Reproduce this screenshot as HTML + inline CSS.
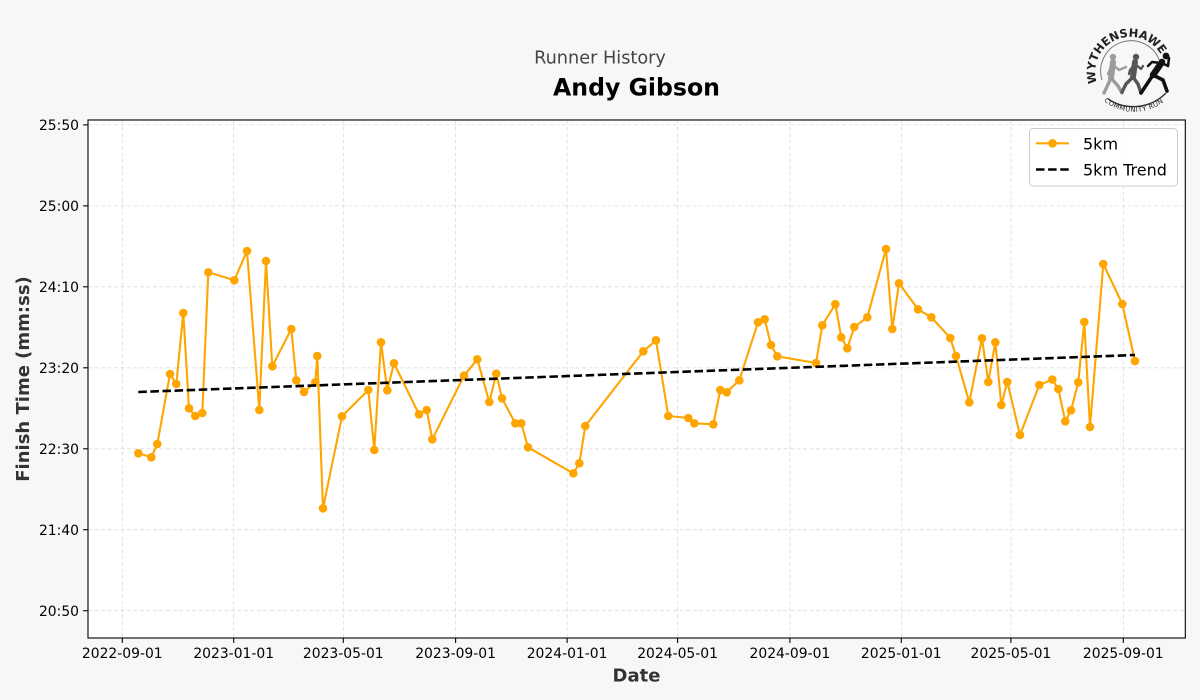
<!DOCTYPE html>
<html>
<head>
<meta charset="utf-8">
<style>
  html,body{margin:0;padding:0;background:#f7f7f7;}
  svg{display:block;}
  text{font-family:"DejaVu Sans","Liberation Sans",sans-serif;}
</style>
</head>
<body>
<svg width="1200" height="700" viewBox="0 0 1200 700" xmlns="http://www.w3.org/2000/svg">
  <rect x="0" y="0" width="1200" height="700" fill="#f7f7f7"/>

  <!-- Titles -->
  <text x="600" y="63.5" font-size="17.7" fill="#444" text-anchor="middle">Runner History</text>
  <text x="636.5" y="95.5" font-size="23.6" font-weight="bold" fill="#000" text-anchor="middle">Andy Gibson</text>

  <!-- Axes background -->
  <rect x="88" y="120" width="1097.3" height="518" fill="#fff"/>

  <!-- Grid -->
  <g stroke="#dcdcdc" stroke-width="0.8" stroke-dasharray="4,2.5" fill="none">
    <line x1="88" x2="1185.3" y1="124.9" y2="124.9"/>
    <line x1="88" x2="1185.3" y1="205.9" y2="205.9"/>
    <line x1="88" x2="1185.3" y1="286.8" y2="286.8"/>
    <line x1="88" x2="1185.3" y1="367.8" y2="367.8"/>
    <line x1="88" x2="1185.3" y1="448.8" y2="448.8"/>
    <line x1="88" x2="1185.3" y1="529.7" y2="529.7"/>
    <line x1="88" x2="1185.3" y1="610.7" y2="610.7"/>
    <line y1="120" y2="638" x1="122.3" x2="122.3"/>
    <line y1="120" y2="638" x1="233.7" x2="233.7"/>
    <line y1="120" y2="638" x1="343.3" x2="343.3"/>
    <line y1="120" y2="638" x1="455.6" x2="455.6"/>
    <line y1="120" y2="638" x1="567.1" x2="567.1"/>
    <line y1="120" y2="638" x1="677.6" x2="677.6"/>
    <line y1="120" y2="638" x1="789.9" x2="789.9"/>
    <line y1="120" y2="638" x1="901.3" x2="901.3"/>
    <line y1="120" y2="638" x1="1010.9" x2="1010.9"/>
    <line y1="120" y2="638" x1="1123.3" x2="1123.3"/>
  </g>

  <!-- Data line -->
  <polyline fill="none" stroke="#FFA500" stroke-width="2.1" stroke-linejoin="round" points="138.3,453.3 151.3,457.3 157.3,444 170,374 176.3,384 183.3,313 189,408.3 195.3,416 202.3,413 208.3,272.3 234.3,280.3 247,251 259.3,410 266,261 272.3,366.3 291.3,329 296.3,380.3 304,392 315.3,382.3 317.3,356 323,508.3 342,416.3 368.3,390 374.3,450 381,342.3 387.3,390.3 394,363.3 419,414.3 426.7,410 432.3,439.3 464,375.7 477.3,359.3 489.3,402 496.3,373.7 502,398.3 515.3,423.3 521.3,423.3 528,447.3 573.3,473.3 579.3,463.3 585.3,426 643.3,351.3 656,340.3 668.3,416 688.3,418 694.3,423.3 713.3,424.3 720.3,390 726.7,392.3 739.3,380.3 758,322.3 764.7,319.3 771,345 777.3,356.3 816,363 822.3,325.3 835.3,304.2 841.3,337.3 847.3,348.3 854.3,327 867.3,317.3 886,249 892.3,329 899,283.3 918,309.3 931.3,317.3 950.3,338 956,356 969.3,402.3 982,338.3 988.3,382 995.3,342.3 1001.3,405 1007.3,382 1020,435 1039.3,385 1052.3,379.5 1058.3,389 1065.3,421.3 1071,410.3 1078.3,382.3 1084.3,322 1090,427 1103.3,264 1122.3,304 1135,361"/>

  <!-- Markers -->
  <g fill="#FFA500">
    <circle cx="138.3" cy="453.3" r="4.3"/><circle cx="151.3" cy="457.3" r="4.3"/><circle cx="157.3" cy="444" r="4.3"/>
    <circle cx="170" cy="374" r="4.3"/><circle cx="176.3" cy="384" r="4.3"/><circle cx="183.3" cy="313" r="4.3"/>
    <circle cx="189" cy="408.3" r="4.3"/><circle cx="195.3" cy="416" r="4.3"/><circle cx="202.3" cy="413" r="4.3"/>
    <circle cx="208.3" cy="272.3" r="4.3"/><circle cx="234.3" cy="280.3" r="4.3"/><circle cx="247" cy="251" r="4.3"/>
    <circle cx="259.3" cy="410" r="4.3"/><circle cx="266" cy="261" r="4.3"/><circle cx="272.3" cy="366.3" r="4.3"/>
    <circle cx="291.3" cy="329" r="4.3"/><circle cx="296.3" cy="380.3" r="4.3"/><circle cx="304" cy="392" r="4.3"/>
    <circle cx="315.3" cy="382.3" r="4.3"/><circle cx="317.3" cy="356" r="4.3"/><circle cx="323" cy="508.3" r="4.3"/>
    <circle cx="342" cy="416.3" r="4.3"/><circle cx="368.3" cy="390" r="4.3"/><circle cx="374.3" cy="450" r="4.3"/>
    <circle cx="381" cy="342.3" r="4.3"/><circle cx="387.3" cy="390.3" r="4.3"/><circle cx="394" cy="363.3" r="4.3"/>
    <circle cx="419" cy="414.3" r="4.3"/><circle cx="426.7" cy="410" r="4.3"/><circle cx="432.3" cy="439.3" r="4.3"/>
    <circle cx="464" cy="375.7" r="4.3"/><circle cx="477.3" cy="359.3" r="4.3"/><circle cx="489.3" cy="402" r="4.3"/>
    <circle cx="496.3" cy="373.7" r="4.3"/><circle cx="502" cy="398.3" r="4.3"/><circle cx="515.3" cy="423.3" r="4.3"/>
    <circle cx="521.3" cy="423.3" r="4.3"/><circle cx="528" cy="447.3" r="4.3"/><circle cx="573.3" cy="473.3" r="4.3"/>
    <circle cx="579.3" cy="463.3" r="4.3"/><circle cx="585.3" cy="426" r="4.3"/><circle cx="643.3" cy="351.3" r="4.3"/>
    <circle cx="656" cy="340.3" r="4.3"/><circle cx="668.3" cy="416" r="4.3"/><circle cx="688.3" cy="418" r="4.3"/>
    <circle cx="694.3" cy="423.3" r="4.3"/><circle cx="713.3" cy="424.3" r="4.3"/><circle cx="720.3" cy="390" r="4.3"/>
    <circle cx="726.7" cy="392.3" r="4.3"/><circle cx="739.3" cy="380.3" r="4.3"/><circle cx="758" cy="322.3" r="4.3"/>
    <circle cx="764.7" cy="319.3" r="4.3"/><circle cx="771" cy="345" r="4.3"/><circle cx="777.3" cy="356.3" r="4.3"/>
    <circle cx="816" cy="363" r="4.3"/><circle cx="822.3" cy="325.3" r="4.3"/><circle cx="835.3" cy="304.2" r="4.3"/>
    <circle cx="841.3" cy="337.3" r="4.3"/><circle cx="847.3" cy="348.3" r="4.3"/><circle cx="854.3" cy="327" r="4.3"/>
    <circle cx="867.3" cy="317.3" r="4.3"/><circle cx="886" cy="249" r="4.3"/><circle cx="892.3" cy="329" r="4.3"/>
    <circle cx="899" cy="283.3" r="4.3"/><circle cx="918" cy="309.3" r="4.3"/><circle cx="931.3" cy="317.3" r="4.3"/>
    <circle cx="950.3" cy="338" r="4.3"/><circle cx="956" cy="356" r="4.3"/><circle cx="969.3" cy="402.3" r="4.3"/>
    <circle cx="982" cy="338.3" r="4.3"/><circle cx="988.3" cy="382" r="4.3"/><circle cx="995.3" cy="342.3" r="4.3"/>
    <circle cx="1001.3" cy="405" r="4.3"/><circle cx="1007.3" cy="382" r="4.3"/><circle cx="1020" cy="435" r="4.3"/>
    <circle cx="1039.3" cy="385" r="4.3"/><circle cx="1052.3" cy="379.5" r="4.3"/><circle cx="1058.3" cy="389" r="4.3"/>
    <circle cx="1065.3" cy="421.3" r="4.3"/><circle cx="1071" cy="410.3" r="4.3"/><circle cx="1078.3" cy="382.3" r="4.3"/>
    <circle cx="1084.3" cy="322" r="4.3"/><circle cx="1090" cy="427" r="4.3"/><circle cx="1103.3" cy="264" r="4.3"/>
    <circle cx="1122.3" cy="304" r="4.3"/><circle cx="1135" cy="361" r="4.3"/>
  </g>

  <!-- Trend line -->
  <line x1="138.3" y1="392" x2="1135" y2="355" stroke="#000" stroke-width="2.6" stroke-dasharray="8.5,3.6"/>

  <!-- Axes spines -->
  <rect x="88" y="120" width="1097.3" height="518" fill="none" stroke="#000" stroke-width="1.1"/>

  <!-- Y ticks -->
  <g stroke="#000" stroke-width="1.1">
    <line x1="83.1" x2="88" y1="124.9" y2="124.9"/>
    <line x1="83.1" x2="88" y1="205.9" y2="205.9"/>
    <line x1="83.1" x2="88" y1="286.8" y2="286.8"/>
    <line x1="83.1" x2="88" y1="367.8" y2="367.8"/>
    <line x1="83.1" x2="88" y1="448.8" y2="448.8"/>
    <line x1="83.1" x2="88" y1="529.7" y2="529.7"/>
    <line x1="83.1" x2="88" y1="610.7" y2="610.7"/>
  </g>
  <g font-size="13.9" fill="#000" text-anchor="end">
    <text x="79" y="130">25:50</text>
    <text x="79" y="211">25:00</text>
    <text x="79" y="291.9">24:10</text>
    <text x="79" y="372.9">23:20</text>
    <text x="79" y="453.9">22:30</text>
    <text x="79" y="534.8">21:40</text>
    <text x="79" y="615.8">20:50</text>
  </g>

  <!-- X ticks -->
  <g stroke="#000" stroke-width="1.1">
    <line y1="638" y2="642.9" x1="122.3" x2="122.3"/>
    <line y1="638" y2="642.9" x1="233.7" x2="233.7"/>
    <line y1="638" y2="642.9" x1="343.3" x2="343.3"/>
    <line y1="638" y2="642.9" x1="455.6" x2="455.6"/>
    <line y1="638" y2="642.9" x1="567.1" x2="567.1"/>
    <line y1="638" y2="642.9" x1="677.6" x2="677.6"/>
    <line y1="638" y2="642.9" x1="789.9" x2="789.9"/>
    <line y1="638" y2="642.9" x1="901.3" x2="901.3"/>
    <line y1="638" y2="642.9" x1="1010.9" x2="1010.9"/>
    <line y1="638" y2="642.9" x1="1123.3" x2="1123.3"/>
  </g>
  <g font-size="13.9" fill="#000" text-anchor="middle">
    <text x="122.3" y="658">2022-09-01</text>
    <text x="233.7" y="658">2023-01-01</text>
    <text x="343.3" y="658">2023-05-01</text>
    <text x="455.6" y="658">2023-09-01</text>
    <text x="567.1" y="658">2024-01-01</text>
    <text x="677.6" y="658">2024-05-01</text>
    <text x="789.9" y="658">2024-09-01</text>
    <text x="901.3" y="658">2025-01-01</text>
    <text x="1010.9" y="658">2025-05-01</text>
    <text x="1123.3" y="658">2025-09-01</text>
  </g>

  <!-- Axis labels -->
  <text x="636.5" y="681.5" font-size="18" font-weight="bold" fill="#333" text-anchor="middle">Date</text>
  <text transform="translate(29,379) rotate(-90)" x="0" y="0" font-size="18" font-weight="bold" fill="#333" text-anchor="middle">Finish Time (mm:ss)</text>

  <!-- Legend -->
  <rect x="1029.5" y="128.5" width="148" height="57.5" rx="4" ry="4" fill="#fff" fill-opacity="0.8" stroke="#cccccc" stroke-width="1"/>
  <line x1="1036" x2="1069" y1="143.3" y2="143.3" stroke="#FFA500" stroke-width="2.1"/>
  <circle cx="1052.5" cy="143.3" r="4.3" fill="#FFA500"/>
  <text x="1083" y="149.3" font-size="16" fill="#000">5km</text>
  <line x1="1036" x2="1069" y1="169.5" y2="169.5" stroke="#000" stroke-width="2.6" stroke-dasharray="8.5,3.6"/>
  <text x="1083" y="175.3" font-size="16" fill="#000">5km Trend</text>

  <!-- Logo -->
  <defs>
    <path id="logoTop" d="M 1097.1 83 A 35 35 0 0 1 1162.2 57.5"/>
    <path id="logoBot" d="M 1104 101 A 48 48 0 0 0 1171 95"/>
  </defs>
  <text font-size="11.5" font-weight="bold" fill="#222">
    <textPath href="#logoTop" textLength="103" lengthAdjust="spacing">WYTHENSHAWE</textPath>
  </text>
  <path d="M 1102 80 A 30 30 0 0 1 1160 62" fill="none" stroke="#777" stroke-width="1"/>
  <path d="M 1108 99 A 46 46 0 0 0 1166 93" fill="none" stroke="#333" stroke-width="1.4"/>
  <text font-size="6.8" fill="#222">
    <textPath href="#logoBot" textLength="64" lengthAdjust="spacing">COMMUNITY RUN</textPath>
  </text>
  <!-- walker (light grey) -->
  <g stroke="#9c9c9c" fill="none" stroke-linecap="round" stroke-linejoin="round">
    <circle cx="1113" cy="57" r="3.2" fill="#9c9c9c" stroke="none"/>
    <path d="M1113 62 L1111 78" stroke-width="6"/>
    <path d="M1111 78 L1104 93 M1111 78 L1118 86 L1122 93" stroke-width="3.4"/>
    <path d="M1112 64 L1119 70 L1126 67 M1112 65 L1108 74" stroke-width="2.4"/>
  </g>
  <!-- runner (dark grey) -->
  <g stroke="#555" fill="none" stroke-linecap="round" stroke-linejoin="round">
    <circle cx="1136" cy="57" r="3.2" fill="#555" stroke="none"/>
    <path d="M1135 62 L1133 77" stroke-width="6"/>
    <path d="M1133 77 L1126 84 L1122 92 M1133 77 L1138 84 L1141 93" stroke-width="3.4"/>
    <path d="M1135 64 L1130 70 L1129 74 M1135 64 L1141 69 L1143 66" stroke-width="2.4"/>
  </g>
  <!-- runner (black) -->
  <g stroke="#111" fill="none" stroke-linecap="round" stroke-linejoin="round">
    <circle cx="1166" cy="56" r="3.4" fill="#111" stroke="none"/>
    <path d="M1162 62 L1153 75" stroke-width="6.5"/>
    <path d="M1153 75 L1147 84 L1141 93 M1153 75 L1163 80 L1167 91" stroke-width="3.6"/>
    <path d="M1161 63 L1152 62 L1148 66 M1162 63 L1168 66 L1169 58" stroke-width="2.6"/>
  </g>
</svg>
</body>
</html>
